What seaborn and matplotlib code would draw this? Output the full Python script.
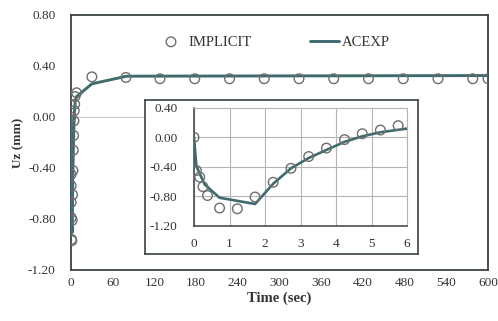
import numpy as np
import pandas as pd
import matplotlib
matplotlib.use("Agg")
import matplotlib.pyplot as plt
import seaborn as sns

# IMPLICIT (circles)
implicit_t = [0.0, 0.066, 0.16, 0.25, 0.38, 0.72, 1.22, 1.72, 2.23, 2.73, 3.23, 3.73,
              4.24, 4.74, 5.25, 5.75, 8.0, 30, 79, 128, 178, 228, 278, 328, 378, 428,
              478, 528, 578, 600]
implicit_uz = [0.0, -0.45, -0.54, -0.67, -0.79, -0.96, -0.97, -0.81, -0.61, -0.42, -0.26,
               -0.145, -0.03, 0.05, 0.10, 0.16, 0.19, 0.315, 0.31, 0.30, 0.30, 0.30, 0.30,
               0.30, 0.30, 0.30, 0.30, 0.30, 0.30, 0.30]
# ACEXP (line)
acexp_t = [0.0, 0.066, 0.3, 0.72, 1.72, 2.23, 2.73, 3.23, 3.73, 4.24, 4.74, 5.25, 6.0,
           8.0, 30, 80, 600]
acexp_uz = [0.0, -0.39, -0.64, -0.82, -0.905, -0.63, -0.42, -0.28, -0.17, -0.06, 0.015,
            0.07, 0.12, 0.16, 0.26, 0.32, 0.325]

main_xticks = [0, 60, 120, 180, 240, 300, 360, 420, 480, 540, 600]
main_yticks = [0.80, 0.40, 0.00, -0.40, -0.80, -1.20]
inset_xticks = [0, 1, 2, 3, 4, 5, 6]
inset_yticks = [0.40, 0.00, -0.40, -0.80, -1.20]

df_imp = pd.DataFrame({"t": implicit_t, "uz": implicit_uz})
df_ace = pd.DataFrame({"t": acexp_t, "uz": acexp_uz})

sns.set_style("white")
plt.rcParams["font.family"] = ["Liberation Serif", "DejaVu Serif"]

LINE = "#3e6b6e"
CIRC = "#6e6e6e"
FRAME = "#3a4242"
TXT = "#333333"

fig = plt.figure(figsize=(4.98, 3.21), dpi=100)
ax = fig.add_axes([0.1426, 0.1589, 0.8374, 0.7944])

ax.axhline(0, xmin=0, xmax=0.18, color="#c8c8c8", lw=0.8, zorder=0)
sns.lineplot(data=df_ace, x="t", y="uz", ax=ax, color=LINE, lw=2.1, label="ACEXP",
             sort=False, estimator=None, zorder=3)
sns.scatterplot(data=df_imp, x="t", y="uz", ax=ax, marker="o", s=48,
                facecolors="none", edgecolor=CIRC, linewidth=1.0, label="IMPLICIT", zorder=4)

ax.set_xlim(0, 600)
ax.set_ylim(-1.20, 0.80)
ax.set_xticks(main_xticks)
ax.set_xticklabels([str(v) for v in main_xticks])
ax.set_yticks(main_yticks)
ax.set_yticklabels([f"{v:.2f}" for v in main_yticks])
ax.tick_params(length=0, labelsize=9.5, colors=TXT)
ax.tick_params(axis="x", pad=5)
ax.tick_params(axis="y", pad=11)
for s in ax.spines.values():
    s.set_color(FRAME)
    s.set_linewidth(1.3)
ax.set_xlabel("Time (sec)", fontsize=10.5, fontweight="bold", color=TXT, labelpad=2)
ax.set_ylabel("Uz (mm)", fontsize=9.5, fontweight="bold", color=TXT, labelpad=3)

h, l = ax.get_legend_handles_labels()
order = [l.index("IMPLICIT"), l.index("ACEXP")]
leg = ax.legend([h[i] for i in order], [l[i] for i in order], ncol=2, frameon=False,
                loc="center", bbox_to_anchor=(0.485, 0.894), fontsize=10.5,
                columnspacing=4.0, handlelength=2.0, handletextpad=0.2)
for t in leg.get_texts():
    t.set_color(TXT)

# inset outer box
box = fig.add_axes([0.2912, 0.2087, 0.5482, 0.4798], zorder=5)
box.set_facecolor("white")
box.set_xticks([]); box.set_yticks([])
for s in box.spines.values():
    s.set_color(FRAME)
    s.set_linewidth(1.2)

ins = fig.add_axes([0.3896, 0.2969, 0.4277, 0.3667], zorder=6)
ins.set_facecolor("none")
sns.lineplot(data=df_ace, x="t", y="uz", ax=ins, color=LINE, lw=1.9,
             sort=False, estimator=None, zorder=3, legend=False)
sns.scatterplot(data=df_imp, x="t", y="uz", ax=ins, marker="o", s=48,
                facecolors="none", edgecolor=CIRC, linewidth=1.0, zorder=4, legend=False)
ins.set_xlim(0, 6)
ins.set_ylim(-1.20, 0.40)
ins.set_xticks(inset_xticks)
ins.set_xticklabels([str(v) for v in inset_xticks])
ins.set_yticks(inset_yticks)
ins.set_yticklabels([f"{v:.2f}" for v in inset_yticks])
ins.grid(True, color="#b5b5b5", lw=0.8)
ins.tick_params(length=0, labelsize=9.5, colors=TXT)
ins.tick_params(axis="x", pad=9)
ins.tick_params(axis="y", pad=12)
ins.set_xlabel(""); ins.set_ylabel("")
for k, s in ins.spines.items():
    if k in ("left", "bottom"):
        s.set_color(FRAME); s.set_linewidth(1.1)
    else:
        s.set_color("#b5b5b5"); s.set_linewidth(0.8)

fig.savefig("out.png", dpi=100)
